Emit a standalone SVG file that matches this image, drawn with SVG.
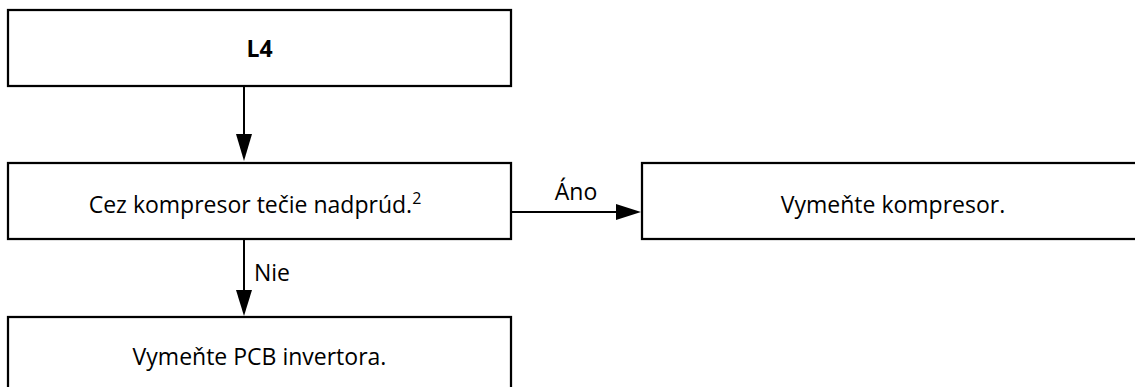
<svg xmlns="http://www.w3.org/2000/svg" width="1135" height="387" viewBox="0 0 1135 387">
<defs>
<style>
.box{fill:#fff;stroke:#000;stroke-width:2.25}
.t{font-family:"Open Sans","Noto Sans",sans-serif;font-size:23px;fill:#000}
.c{text-anchor:middle}
.b{font-weight:bold}
.line{stroke:#000;stroke-width:2;fill:none}
.head{fill:#000}
</style>
</defs>
<rect width="1135" height="387" fill="#fff"/>
<g id="connectors">
<line class="line" x1="244" y1="86" x2="244" y2="136"/>
<polygon class="head" points="236,134 252,134 244,161"/>
<line class="line" x1="244" y1="239" x2="244" y2="292"/>
<polygon class="head" points="236,290 252,290 244,316"/>
<line class="line" x1="511" y1="212" x2="618" y2="212"/>
<polygon class="head" points="616,204 616,220 641,212"/>
<text class="t c" x="576" y="200">Áno</text>
<text class="t" x="254" y="281">Nie</text>
</g>
<g id="n1">
<rect class="box" x="8" y="10" width="503" height="76"/>
<text class="t c b" x="259.5" y="57">L4</text>
</g>
<g id="n2">
<rect class="box" x="8" y="163" width="503" height="76"/>
<text class="t c" x="255" y="213">Cez kompresor tečie nadprúd.<tspan font-size="16" dy="-9">2</tspan></text>
</g>
<g id="n3">
<rect class="box" x="642" y="163" width="500" height="76"/>
<text class="t c" x="893" y="213">Vymeňte kompresor.</text>
</g>
<g id="n4">
<rect class="box" x="8" y="317" width="503" height="80"/>
<text class="t c" x="259.5" y="365">Vymeňte PCB invertora.</text>
</g>
</svg>
